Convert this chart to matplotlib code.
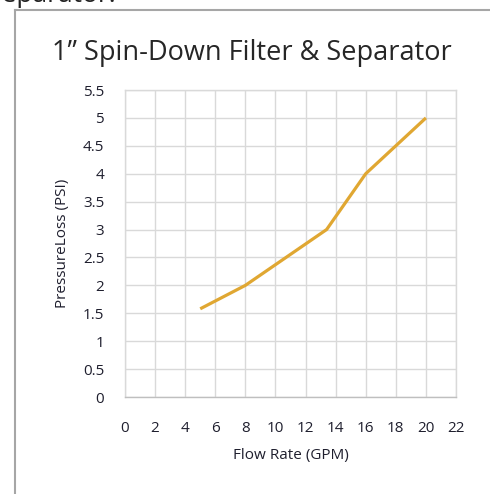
import numpy as np
import matplotlib
matplotlib.use('Agg')
import matplotlib.pyplot as plt
from matplotlib.lines import Line2D

# ----------- data ----------- #
flow_gpm = [5, 8, 13.4, 16, 20]
pressure_psi = [1.58, 2.0, 3.0, 4.0, 5.0]
x_ticks = list(range(0, 23, 2))
y_ticks = [0, 0.5, 1, 1.5, 2, 2.5, 3, 3.5, 4, 4.5, 5, 5.5]
y_tick_labels = ['0', '0.5', '1', '1.5', '2', '2.5', '3', '3.5', '4', '4.5', '5', '5.5']

title = '1\u201d Spin-Down Filter & Separator'

fig = plt.figure(figsize=(4.9, 4.94), dpi=100)
fig.patch.set_facecolor('white')

# ----------- surrounding frame (page box) ----------- #
fig.add_artist(Line2D([15/490, 15/490], [0, 1 - 10/494], color='#a6a6a6', linewidth=1.5,
                      transform=fig.transFigure))
fig.add_artist(Line2D([15/490, 1], [1 - 10/494, 1 - 10/494], color='#a6a6a6', linewidth=1.5,
                      transform=fig.transFigure))
# clipped text from the page above
fig.text(-0.025, 1 - 2/494, 'Separator.', fontsize=19, family='Open Sans', color='#222222',
         ha='left', va='baseline')

fig.text(0.515, 1 - 60/494, title, fontsize=19.5, family='Open Sans', color='#262626',
         ha='center', va='baseline')

ax = fig.add_axes([125/490, 97/494, 331/490, 307/494])
ax.plot(flow_gpm, pressure_psi, color='#E0A732', linewidth=2.3, solid_capstyle='butt')

ax.set_xlim(0, 22)
ax.set_ylim(0, 5.5)
ax.set_xticks(x_ticks)
ax.set_yticks(y_ticks)
ax.set_yticklabels(y_tick_labels)
ax.grid(True, color='#d9d9d9', linewidth=1)
ax.set_axisbelow(True)
for s in ax.spines.values():
    s.set_color('#d9d9d9')
    s.set_linewidth(1)
ax.spines['bottom'].set_color('#bfbfbf')
ax.tick_params(axis='both', length=0, labelsize=11, colors='#1f1f2e')
ax.tick_params(axis='x', pad=17)
ax.tick_params(axis='y', pad=15)
for lab in ax.get_xticklabels() + ax.get_yticklabels():
    lab.set_family('Open Sans')

ax.set_xlabel('Flow Rate (GPM)', fontsize=11, family='Open Sans', color='#1f1f2e', labelpad=9)
ax.set_ylabel('PressureLoss (PSI)', fontsize=11, family='Open Sans', color='#1f1f2e', labelpad=9)

fig.savefig('out.png', dpi=100)
